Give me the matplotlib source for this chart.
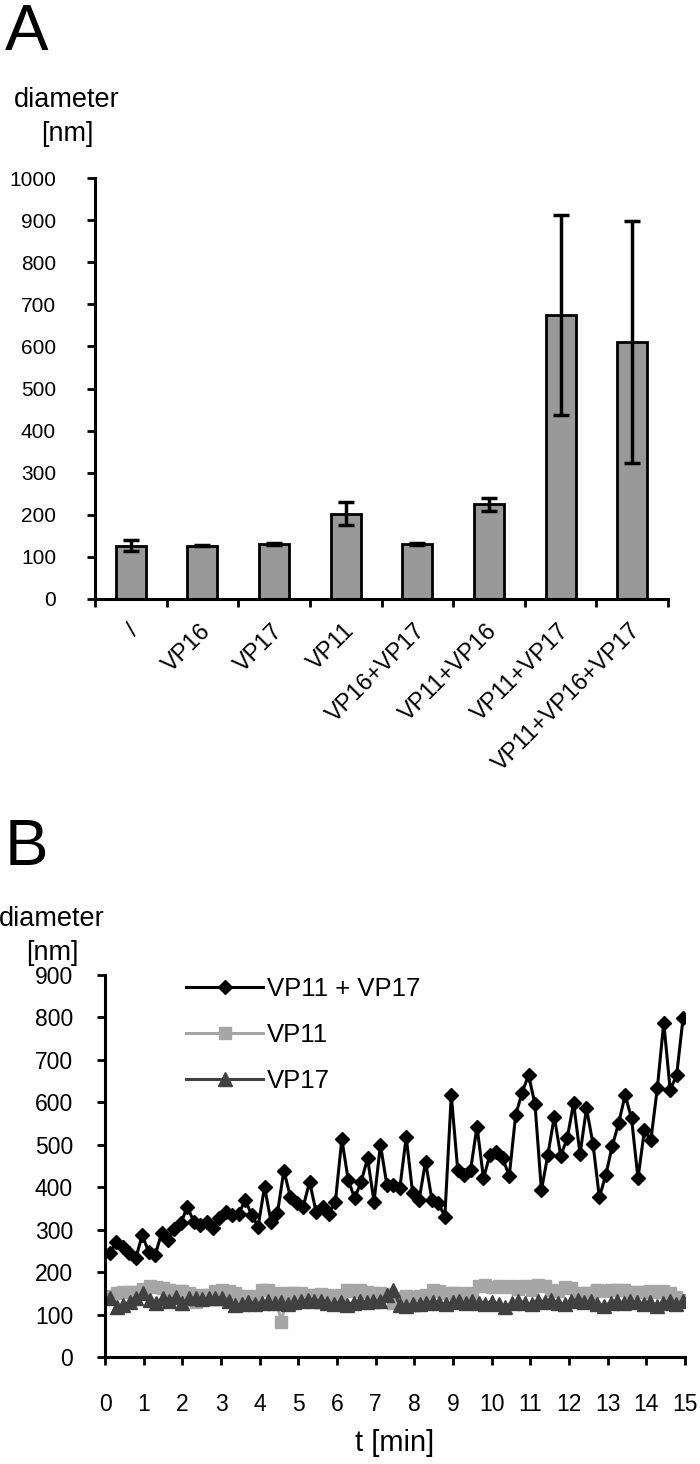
import numpy as np
import matplotlib
matplotlib.use("Agg")
import matplotlib.pyplot as plt
from matplotlib.transforms import ScaledTranslation

plt.rcParams["font.family"] = ["Liberation Sans", "DejaVu Sans"]

# --- panel A: mean particle diameter per sample ---
samples = ["/", "VP16", "VP17", "VP11", "VP16+VP17", "VP11+VP16",
           "VP11+VP17", "VP11+VP16+VP17"]
diam_mean = [127, 127, 130, 203, 130, 225, 675, 610]
diam_err = [12, 2, 2, 28, 2, 15, 237, 288]

# --- panel B: diameter over time ---
vp11_17 = [244, 272, 260, 244, 233, 287, 248, 240, 291, 276, 301, 315, 354, 319,
           311, 319, 303, 327, 342, 335, 338, 370, 335, 307, 401, 319, 339, 439,
           378, 362, 354, 413, 342, 354, 337, 366, 513, 417, 374, 413, 468, 366,
           500, 405, 405, 397, 518, 386, 370, 460, 370, 362, 331, 617, 441, 429,
           441, 543, 421, 476, 484, 468, 426, 570, 623, 664, 596, 393, 476, 566,
           474, 515, 598, 478, 586, 503, 376, 429, 497, 551, 617, 562, 421, 535,
           511, 633, 788, 629, 664, 798]
vp11 = [143, 150, 154, 152, 154, 160, 167, 165, 163, 158, 155, 156, 150, 130,
        147, 145, 155, 157, 156, 150, 143, 140, 143, 157, 157, 150, 83, 151,
        150, 151, 147, 145, 148, 147, 144, 147, 157, 156, 157, 152, 151, 150,
        148, 128, 140, 143, 142, 143, 145, 157, 155, 151, 150, 151, 148, 151,
        168, 170, 165, 168, 166, 168, 160, 168, 157, 170, 168, 157, 155, 164,
        162, 151, 150, 151, 157, 155, 157, 159, 158, 154, 152, 154, 155, 153,
        155, 150, 142, 135]
vp17 = [140, 118, 122, 130, 138, 150, 135, 128, 138, 132, 142, 127, 138, 140,
        136, 140, 138, 140, 133, 122, 125, 130, 126, 128, 131, 127, 129, 126,
        130, 131, 135, 132, 133, 128, 125, 130, 123, 128, 132, 129, 131, 133,
        145, 158, 122, 120, 126, 124, 128, 130, 127, 124, 129, 131, 127, 132,
        128, 126, 130, 125, 118, 128, 133, 127, 124, 133, 130, 135, 128, 124,
        132, 135, 129, 132, 126, 120, 128, 131, 127, 133, 129, 126, 130, 120,
        128, 132, 124, 133]
t_start, t_end = 0.13, 14.95  # first / last reading [min], regular sampling


def style_axes(ax, size):
    for side in ("top", "right"):
        ax.spines[side].set_visible(False)
    for side in ("left", "bottom"):
        ax.spines[side].set_linewidth(2.2)
    ax.tick_params(which="both", direction="out", length=6, width=2, labelsize=size)


def times(series):
    return np.linspace(t_start, t_end, len(series))


fig = plt.figure(figsize=(7, 14.64), dpi=100)
H = 1464.0

# ---------------- A ----------------
axA = fig.add_axes([95 / 700, 1 - 599 / H, 573 / 700, 421 / H])
style_axes(axA, 15)
x = np.arange(len(samples))
axA.bar(x, diam_mean, width=0.42, color="#999999", edgecolor="black", linewidth=2,
        zorder=2)
axA.errorbar(x, diam_mean, yerr=diam_err, fmt="none", ecolor="black",
             elinewidth=2.5, capsize=6, capthick=2.5, zorder=3)
axA.set_xlim(-0.5, len(samples) - 0.5)
axA.set_ylim(0, 1000)
axA.set_yticks(range(0, 1001, 100))
axA.set_xticks(x)
axA.set_xticks(np.arange(-0.5, len(samples), 1), minor=True)
axA.tick_params(axis="x", which="major", length=0, labelsize=17, pad=6)
axA.tick_params(axis="y", pad=22)
offs = ScaledTranslation(-2 / 72, -9 / 72, fig.dpi_scale_trans)
labels = axA.set_xticklabels(samples, rotation=45, ha="right", va="top",
                             rotation_mode="anchor")
for lab in labels:
    lab.set_transform(lab.get_transform() + offs)

fig.text(5 / 700, 1 - 50 / H, "A", fontsize=47, va="baseline", ha="left")
fig.text(67 / 700, 1 - 117 / H, "diameter\n[nm]", fontsize=19.5, ha="center",
         va="center", linespacing=1.4)

# ---------------- B ----------------
axB = fig.add_axes([105 / 700, 1 - 1357 / H, 580 / 700, 382 / H])
style_axes(axB, 16.5)
axB.plot(times(vp11_17), vp11_17, color="black", lw=2.2, marker="D", ms=7.5,
         mfc="black", mec="black", label="VP11 + VP17", zorder=3)
axB.plot(times(vp11), vp11, color="#a6a6a6", lw=2.2, marker="s", ms=8,
         mfc="#a6a6a6", mec="#a6a6a6", label="VP11", zorder=1)
axB.plot(times(vp17), vp17, color="#404040", lw=2.2, marker="^", ms=9.5,
         mfc="#404040", mec="#404040", label="VP17", zorder=2)
axB.set_xlim(0, 15)
axB.set_ylim(0, 900)
axB.set_xticks(range(0, 16))
axB.set_yticks(range(0, 901, 100))
axB.tick_params(axis="y", pad=17)
axB.tick_params(axis="x", pad=20)
axB.set_xlabel("t [min]", fontsize=21, labelpad=9)
axB.legend(loc="upper left", bbox_to_anchor=(0.1, 1.055), frameon=False,
           fontsize=18.5, handlelength=3.0, handletextpad=0.15, labelspacing=0.85)

fig.text(5 / 700, 1 - 865 / H, "B", fontsize=47, va="baseline", ha="left")
fig.text(52 / 700, 1 - 936 / H, "diameter\n[nm]", fontsize=19.5, ha="center",
         va="center", linespacing=1.4)

fig.savefig("out.png", dpi=100, facecolor="white")
